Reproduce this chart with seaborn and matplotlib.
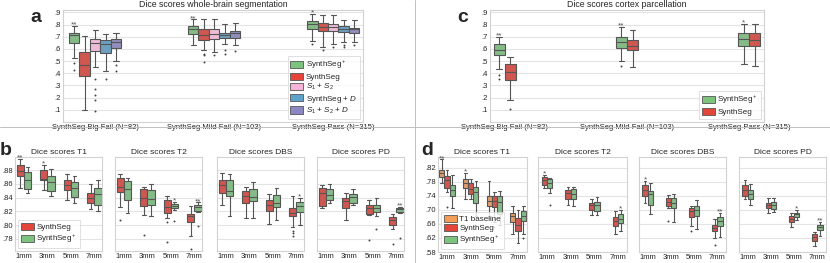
import numpy as np
import pandas as pd
import matplotlib
matplotlib.use("Agg")
import matplotlib.pyplot as plt
import seaborn as sns
from matplotlib.patches import Patch
from matplotlib.ticker import FuncFormatter

# every box = [lower whisker, Q1, median, Q3, upper whisker]

# ---- a: whole-brain segmentation
groups = ['SynthSeg Big Fail (N=82)', 'SynthSeg Mild Fail (N=103)', 'SynthSeg Pass (N=315)']
methods_a = [r'SynthSeg$^+$', 'SynthSeg', r'$S_1$ + $S_2$', r'SynthSeg + $D$', r'$S_1$ + $S_2$ + $D$']
a_plus = [[.528, .652, .715, .735, .792], [.635, .720, .762, .787, .842], [.665, .768, .803, .830, .886]]
a_synthseg = [[.10, .379, .470, .574, .710], [.590, .677, .718, .760, .850], [.616, .745, .781, .817, .878]]
a_s1s2 = [[.450, .580, .650, .680, .755], [.574, .685, .726, .768, .845], [.638, .745, .781, .809, .878]]
a_synthseg_d = [[.423, .569, .644, .671, .726], [.644, .693, .718, .735, .809], [.657, .740, .768, .787, .836]]
a_s1s2_d = [[.498, .607, .657, .685, .731], [.630, .693, .731, .748, .817], [.657, .731, .760, .776, .836]]
a_plus_out = [[.487, .428], [], [.644]]
a_synthseg_out = [[], [.56, .55, .49], [.588]]
a_s1s2_out = [[.35, .27, .22, .18, .09], [.547], [.616]]
a_synthseg_d_out = [[.355], [.588, .561], [.635, .616]]
a_s1s2_d_out = [[.47, .415], [.583], [.63]]
a_plus_stars = ['**', '**', '*']

# ---- c: cortex parcellation
methods_c = [r'SynthSeg$^+$', 'SynthSeg']
c_plus = [[.437, .547, .594, .644, .698], [.498, .607, .657, .698, .781], [.479, .624, .679, .731, .809]]
c_synthseg = [[.183, .346, .409, .473, .533], [.450, .588, .624, .677, .754], [.459, .624, .671, .731, .809]]
c_plus_out = [[.39, .355], [.459], []]
c_synthseg_out = [[.107], [], []]
c_plus_stars = ['**', '**', '*']

# ---- b / d: resolutions
res = ['1mm', '3mm', '5mm', '7mm']
b_T1_synthseg = [[.854, .872, .878, .887, .896], [.851, .865, .867, .880, .888], [.836, .851, .858, .865, .874], [.823, .832, .840, .846, .860]]
b_T1_plus = [[.846, .852, .865, .877, .884], [.843, .849, .862, .872, .881], [.832, .841, .854, .863, .872], [.821, .829, .845, .854, .865]]
b_T2_synthseg = [[.826, .848, .855, .868, .874], [.815, .828, .840, .853, .855], [.811, .818, .826, .836, .842], [.785, .804, .813, .816, .828]]
b_T2_plus = [[.818, .836, .852, .864, .869], [.814, .830, .838, .851, .860], [.822, .825, .828, .831, .834], [.819, .821, .826, .829, .833]]
b_DBS_synthseg = [[.830, .847, .858, .866, .876], [.811, .832, .842, .850, .856], [.801, .821, .830, .837, .845], [.798, .814, .818, .825, .843]]
b_DBS_plus = [[.814, .842, .850, .866, .874], [.810, .835, .841, .853, .863], [.807, .826, .832, .844, .854], [.800, .819, .828, .833, .840]]
b_PD_synthseg = [[.825, .828, .847, .854, .859], [.807, .825, .835, .840, .846], [.815, .816, .825, .829, .836], [.794, .800, .807, .812, .816]]
b_PD_plus = [[.832, .836, .844, .852, .860], [.829, .832, .841, .845, .852], [.813, .819, .825, .830, .840], [.817, .819, .824, .825, .826]]
b_T2_synthseg_out = [[.807], [.786], [.805, .776], [.765]]
b_T2_plus_out = [[], [], [.806], [.799]]
b_DBS_synthseg_out = [[], [], [], [.792, .789, .785]]
b_PD_synthseg_out = [[], [], [.779], [.772]]
b_PD_plus_out = [[], [], [.794], [.782]]
b_T1_synthseg_stars = ['**', '*', '', '']
b_T2_plus_stars = ['', '', '*', '**']
b_DBS_plus_stars = ['', '', '', '*']
b_PD_plus_stars = ['', '', '', '**']

d_T1_base = [[.777, .793, .806, .815, .844], [.731, .763, .777, .787, .806], [.677, .711, .725, .739, .782], [.630, .666, .682, .691, .711]]
d_T1_synthseg = [[.751, .763, .784, .796, .815], [.731, .746, .760, .777, .787], [.665, .708, .725, .739, .751], [.606, .641, .656, .677, .701]]
d_T1_plus = [[.706, .739, .758, .772, .801], [.682, .720, .751, .765, .782], [.658, .689, .723, .739, .753], [.630, .668, .682, .696, .711]]
d_T2_synthseg = [[.763, .771, .784, .793, .801], [.715, .730, .749, .758, .765], [.685, .701, .713, .720, .730], [.631, .653, .668, .679, .696]]
d_T2_plus = [[.749, .763, .777, .787, .791], [.712, .730, .746, .760, .765], [.685, .698, .713, .723, .736], [.639, .663, .675, .689, .701]]
d_DBS_synthseg = [[.720, .739, .758, .772, .782], [.706, .711, .723, .734, .744], [.655, .679, .696, .706, .711], [.620, .639, .649, .656, .674]]
d_DBS_plus = [[.687, .715, .746, .755, .777], [.666, .706, .720, .734, .746], [.646, .682, .701, .711, .727], [.622, .653, .668, .679, .691]]
d_PD_synthseg = [[.731, .739, .758, .772, .785], [.691, .706, .713, .720, .734], [.651, .665, .674, .682, .690], [.596, .612, .623, .630, .637]]
d_PD_plus = [[.713, .732, .746, .758, .774], [.694, .703, .713, .722, .734], [.670, .679, .687, .691, .699], [.625, .644, .651, .658, .665]]
d_T1_synthseg_out = [[.708], [.679], [.651], []]
d_T1_plus_out = [[], [], [], [.620]]
d_T2_plus_out = [[.715], [], [], []]
d_DBS_synthseg_out = [[], [.668], [.641], [.599]]
d_T1_base_stars = ['**', '*', '', '']
d_T2_synthseg_stars = ['*', '', '', '']
d_T2_plus_stars = ['', '', '', '*']
d_DBS_synthseg_stars = ['*', '', '', '']
d_DBS_plus_stars = ['', '', '', '**']
d_PD_plus_stars = ['', '', '*', '**']

GREEN, RED, PINK, BLUE, PURPLE, ORANGE = '#7cc47e', '#e5443a', '#f6b4d8', '#5fa3cd', '#8a87c2', '#f39c55'
EDGE = '#555555'

sns.set_style('whitegrid', {'axes.edgecolor': '#d2d2d2', 'grid.color': '#e4e4e4'})
plt.rcParams['font.family'] = ['Liberation Sans', 'DejaVu Sans']
plt.rcParams['mathtext.fontset'] = 'custom'
plt.rcParams['mathtext.rm'] = 'Liberation Sans'
plt.rcParams['mathtext.it'] = 'Liberation Sans:italic'


def draw(ax, cats, hues, boxes, outs, stars, colors, width):
    rows = []
    for h, per_cat in zip(hues, boxes):
        for c, five in zip(cats, per_cat):
            for v in five:
                rows.append((c, h, v))
    df = pd.DataFrame(rows, columns=['cat', 'method', 'dice'])
    sns.boxplot(data=df, x='cat', y='dice', hue='method', order=cats, hue_order=hues,
                palette=colors, width=width, whis=(0, 100), showfliers=False,
                linewidth=0.8, linecolor=EDGE, legend=False, ax=ax)
    n = len(hues)
    for j in range(n):
        off = width / n * (j + 0.5) - width / 2
        for i in range(len(cats)):
            pts = outs[j][i] if outs[j] else []
            if pts:
                ax.scatter(np.full(len(pts), i + off), pts, s=2.0, color='#444444', lw=0, zorder=3)
            st = stars[j][i] if stars[j] else ''
            if st:
                ax.annotate(st, (i + off, boxes[j][i][4]), xytext=(0, -1.8), textcoords='offset points',
                            ha='center', va='bottom', fontsize=6, color='#555555')
    ax.set_xlabel('')
    ax.set_ylabel('')
    ax.tick_params(axis='both', length=0, pad=1.5, labelsize=5.5)


def legend(ax, labels, colors, loc):
    handles = [Patch(facecolor=c, edgecolor=EDGE, linewidth=0.6, label=l) for l, c in zip(labels, colors)]
    lg = ax.legend(handles=handles, loc=loc, fontsize=5.8, frameon=True, handlelength=1.6,
                   handleheight=1.0, handletextpad=0.3, borderpad=0.35, labelspacing=0.15,
                   borderaxespad=0.4, fancybox=False)
    lg.get_frame().set_edgecolor('#d2d2d2')
    lg.get_frame().set_linewidth(0.6)


fig = plt.figure(figsize=(8.3, 2.63), dpi=100)
W, H = 830, 263


def box_axes(x0, y0, x1, y1):
    return fig.add_axes([x0 / W, 1 - y1 / H, (x1 - x0) / W, (y1 - y0) / H])


fmt1 = FuncFormatter(lambda v, _: f'{v:.1f}'.lstrip('0'))
fmt2 = FuncFormatter(lambda v, _: f'{v:.2f}'.lstrip('0'))

# panel a
ax = box_axes(63, 10, 363, 122)
draw(ax, groups, methods_a,
     [a_plus, a_synthseg, a_s1s2, a_synthseg_d, a_s1s2_d],
     [a_plus_out, a_synthseg_out, a_s1s2_out, a_synthseg_d_out, a_s1s2_d_out],
     [a_plus_stars, None, None, None, None],
     [GREEN, RED, PINK, BLUE, PURPLE], 0.44)
ax.set_xlim(-0.27, 2.25)
ax.set_ylim(0.0, 0.92)
ax.set_yticks(np.arange(1, 10) / 10)
ax.yaxis.set_major_formatter(fmt1)
ax.set_title('Dice scores whole-brain segmentation', fontsize=6.3, pad=2)
legend(ax, methods_a, [GREEN, RED, PINK, BLUE, PURPLE], 'lower right')

# panel c
ax = box_axes(490, 10, 764, 122)
draw(ax, groups, methods_c, [c_plus, c_synthseg], [c_plus_out, c_synthseg_out],
     [c_plus_stars, None], [GREEN, RED], 0.18)
ax.set_xlim(-0.12, 2.12)
ax.set_ylim(0.0, 0.92)
ax.set_yticks(np.arange(1, 10) / 10)
ax.yaxis.set_major_formatter(fmt1)
ax.set_title('Dice scores cortex parcellation', fontsize=6.3, pad=2)
legend(ax, methods_c, [GREEN, RED], 'lower right')

# panel b
b_x = [(15, 102), (115, 202), (217, 304), (317, 404)]
b_titles = ['Dice scores T1', 'Dice scores T2', 'Dice scores DBS', 'Dice scores PD']
b_boxes = [[b_T1_synthseg, b_T1_plus], [b_T2_synthseg, b_T2_plus],
           [b_DBS_synthseg, b_DBS_plus], [b_PD_synthseg, b_PD_plus]]
b_outs = [[None, None], [b_T2_synthseg_out, b_T2_plus_out],
          [b_DBS_synthseg_out, None], [b_PD_synthseg_out, b_PD_plus_out]]
b_stars = [[b_T1_synthseg_stars, None], [None, b_T2_plus_stars],
           [None, b_DBS_plus_stars], [None, b_PD_plus_stars]]
methods_b = ['SynthSeg', r'SynthSeg$^+$']
for k, (x0, x1) in enumerate(b_x):
    ax = box_axes(x0, 157, x1, 251)
    draw(ax, res, methods_b, b_boxes[k], b_outs[k], b_stars[k], [RED, GREEN], 0.62)
    ax.set_xlim(-0.38, 3.33)
    ax.set_ylim(0.7625, 0.899)
    ax.set_yticks([.78, .80, .82, .84, .86, .88])
    ax.yaxis.set_major_formatter(fmt2)
    ax.set_title(b_titles[k], fontsize=6, pad=2)
    if k == 0:
        legend(ax, methods_b, [RED, GREEN], 'lower left')
    else:
        ax.set_yticklabels([])

# panel d
d_x = [(438, 527), (538, 627), (639, 726), (739, 826)]
for k, (x0, x1) in enumerate(d_x):
    ax = box_axes(x0, 157, x1, 252)
    if k == 0:
        hues = ['T1 baseline', 'SynthSeg', r'SynthSeg$^+$']
        draw(ax, res, hues, [d_T1_base, d_T1_synthseg, d_T1_plus],
             [None, d_T1_synthseg_out, d_T1_plus_out], [d_T1_base_stars, None, None],
             [ORANGE, RED, GREEN], 0.66)
        legend(ax, hues, [ORANGE, RED, GREEN], 'lower left')
    elif k == 1:
        draw(ax, res, methods_b, [d_T2_synthseg, d_T2_plus], [None, d_T2_plus_out],
             [d_T2_synthseg_stars, d_T2_plus_stars], [RED, GREEN], 0.46)
    elif k == 2:
        draw(ax, res, methods_b, [d_DBS_synthseg, d_DBS_plus], [d_DBS_synthseg_out, None],
             [d_DBS_synthseg_stars, d_DBS_plus_stars], [RED, GREEN], 0.46)
    else:
        draw(ax, res, methods_b, [d_PD_synthseg, d_PD_plus], [None, None],
             [None, d_PD_plus_stars], [RED, GREEN], 0.46)
    ax.set_xlim(-0.38, 3.38)
    ax.set_ylim(0.58, 0.851)
    ax.set_yticks([.58, .62, .66, .70, .74, .78, .82])
    ax.yaxis.set_major_formatter(fmt2)
    ax.set_title(b_titles[k], fontsize=6, pad=2)
    if k > 0:
        ax.set_yticklabels([])

# panel letters and separators
for s, x, y in [('a', 30, 22), ('c', 457, 22), ('b', 0, 155), ('d', 421, 155)]:
    fig.text(x / W, 1 - y / H, s, fontsize=14, fontweight='bold', va='baseline')
fig.add_artist(plt.Line2D([415 / W, 415 / W], [0, 1], color='#c0c0c0', lw=0.7))
fig.add_artist(plt.Line2D([0, 1], [1 - 127 / H, 1 - 127 / H], color='#c0c0c0', lw=0.7))

fig.savefig('out.png', dpi=100)
